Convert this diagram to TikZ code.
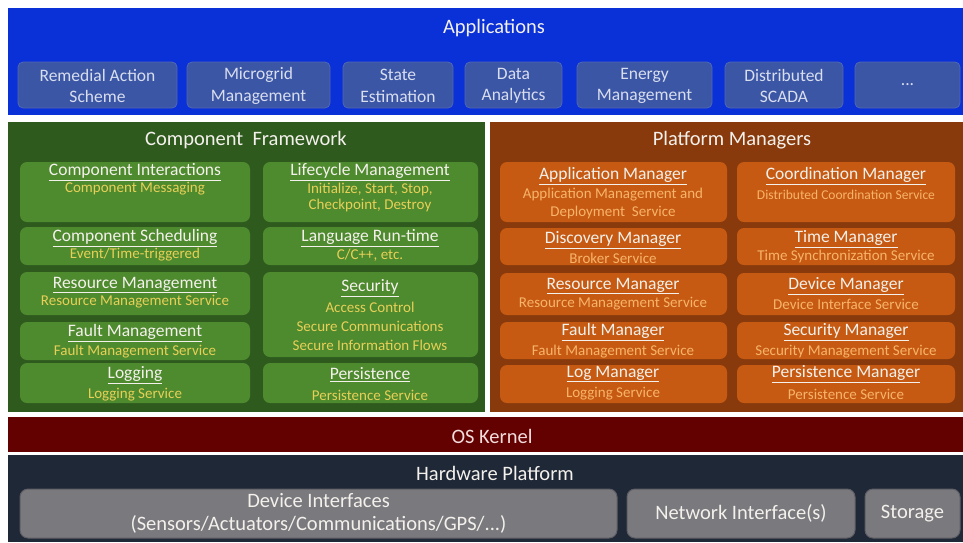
\documentclass[tikz,border=0pt]{standalone}
\usepackage{fontspec}
\setmainfont{Carlito}
\usetikzlibrary{fit}

\definecolor{appband}{HTML}{0A30D7}
\definecolor{appbox}{HTML}{3C56A6}
\definecolor{appboxline}{HTML}{5068B4}
\definecolor{apptext}{HTML}{D8DEEE}
\definecolor{greenpanel}{HTML}{2F5A1E}
\definecolor{greenbox}{HTML}{4E8A2E}
\definecolor{greensub}{HTML}{E8D058}
\definecolor{orangepanel}{HTML}{893A0C}
\definecolor{orangebox}{HTML}{C65A12}
\definecolor{orangesub}{HTML}{F8B46A}
\definecolor{kernel}{HTML}{630000}
\definecolor{kerneltext}{HTML}{F3DCDC}
\definecolor{hwpanel}{HTML}{1F2837}
\definecolor{hwbox}{HTML}{7A797E}
\definecolor{hwboxline}{HTML}{5E5E64}
\definecolor{lighttext}{HTML}{F4F1EC}

\tikzset{
  area/.style={inner sep=0pt, outer sep=0pt, draw=none},
  appbtn/.style={area, fill=appbox, draw=appboxline, line width=0.8pt, rounded corners=5pt},
  gbox/.style={area, fill=greenbox, rounded corners=7pt},
  obox/.style={area, fill=orangebox, rounded corners=7pt},
  hwbtn/.style={area, fill=hwbox, draw=hwboxline, line width=1pt, rounded corners=8pt},
  head/.style={inner sep=0pt, text=lighttext, font=\fontsize{20.5}{22}\selectfont},
  applbl/.style={inner sep=0pt, text=apptext, align=center, font=\fontsize{17.5}{21.5}\selectfont},
  ttl/.style={inner sep=0pt, text=lighttext, font=\fontsize{17.5}{18}\selectfont},
  gsub/.style={inner sep=0pt, text=greensub, font=\fontsize{15}{16}\selectfont},
  osub/.style={inner sep=0pt, text=orangesub, font=\fontsize{15}{16}\selectfont},
  hwlbl/.style={inner sep=0pt, text=lighttext, align=center, font=\fontsize{20.5}{23}\selectfont},
}

% a rectangular region given by its corners: name, x1, y1, x2, y2, style
\newcommand\region[6]{\node[fit={(#2,#3) (#4,#5)}, #6] (#1) {};}

\begin{document}
\begin{tikzpicture}[x=1pt, y=-1pt]
\useasboundingbox (0,0) rectangle (963,542);
\fill[white] (0,0) rectangle (963,542);

% ---------------- Applications ----------------
\region{apps}{8}{8}{963}{115}{area, fill=appband}
\node[head] (apps-t) at (494,28) {Applications};
\region{a1}{18}{62}{177}{108}{appbtn}
\region{a2}{187}{62}{330}{108}{appbtn}
\region{a3}{343}{62}{453}{108}{appbtn}
\region{a4}{465}{62}{562}{108}{appbtn}
\region{a5}{577}{62}{712}{108}{appbtn}
\region{a6}{725}{62}{843}{108}{appbtn}
\region{a7}{855}{62}{960}{108}{appbtn}
\node[applbl] at ([yshift=-1pt]a1) {Remedial Action\\Scheme};
\node[applbl] at ([yshift=-1pt]a2) {Microgrid\\Management};
\node[applbl] at ([yshift=-1pt]a3) {State\\Estimation};
\node[applbl] at ([yshift=-1pt]a4) {Data\\Analytics};
\node[applbl] at ([yshift=-1pt]a5) {Energy\\Management};
\node[applbl] at ([yshift=-1pt]a6) {Distributed\\SCADA};
\node[applbl] at (a7) {...};

% ---------------- Component Framework ----------------
\region{cf}{8}{122}{485}{412}{area, fill=greenpanel}
\node[head] (cf-t) at (246,140) {Component\ \ Framework};

\region{ci}{20}{162}{250}{222}{gbox}
\node[ttl]  (ci-t) at (135,172) {\underline{Component Interactions}};
\node[gsub] (ci-s) at (135,189) {Component Messaging};

\region{lm}{263}{162}{478}{222}{gbox}
\node[ttl]  (lm-t) at (370,172) {\underline{Lifecycle Management}};
\node[gsub] (lm-s1) at (370,189) {Initialize, Start, Stop,};
\node[gsub] (lm-s2) at (370,205) {Checkpoint, Destroy};

\region{cs}{20}{227}{250}{265}{gbox}
\node[ttl]  (cs-t) at (135,238) {\underline{Component Scheduling}};
\node[gsub] (cs-s) at (135,255) {Event/Time-triggered};

\region{lr}{263}{227}{478}{265}{gbox}
\node[ttl]  (lr-t) at (370,238) {\underline{Language Run-time}};
\node[gsub] (lr-s) at (370,255) {C/C++, etc.};

\region{rm}{20}{272}{250}{315}{gbox}
\node[ttl]  (rm-t) at (135,285) {\underline{Resource Management}};
\node[gsub] (rm-s) at (135,302) {Resource Management Service};

\region{sec}{263}{272}{478}{357}{gbox}
\node[ttl]  (sec-t) at (370,288) {\underline{Security}};
\node[gsub] (sec-s1) at (370,307) {Access Control};
\node[gsub] (sec-s2) at (370,326) {Secure Communications};
\node[gsub] (sec-s3) at (370,345) {Secure Information Flows};

\region{fm}{20}{322}{250}{360}{gbox}
\node[ttl]  (fm-t) at (135,333) {\underline{Fault Management}};
\node[gsub] (fm-s) at (135,352) {Fault Management Service};

\region{lg}{20}{363}{250}{403}{gbox}
\node[ttl]  (lg-t) at (135,375) {\underline{Logging}};
\node[gsub] (lg-s) at (135,395) {Logging Service};

\region{ps}{263}{363}{478}{403}{gbox}
\node[ttl]  (ps-t) at (370,375) {\underline{Persistence}};
\node[gsub] (ps-s) at (370,395) {Persistence Service};

% ---------------- Platform Managers ----------------
\region{pm}{490}{122}{963}{412}{area, fill=orangepanel}
\node[head] (pm-t) at (732,140) {Platform Managers};

\region{am}{500}{162}{727}{222}{obox}
\node[ttl]  (am-t) at (613,176) {\underline{Application Manager}};
\node[osub] (am-s1) at (613,195) {Application Management and};
\node[osub] (am-s2) at (613,212) {Deployment\ \ Service};

\region{com}{737}{162}{955}{222}{obox}
\node[ttl]  (com-t) at (846,176) {\underline{Coordination Manager}};
\node[osub, font=\fontsize{13.5}{15}\selectfont] (com-s) at (846,195) {Distributed Coordination Service};

\region{dm}{500}{228}{727}{265}{obox}
\node[ttl]  (dm-t) at (613,240) {\underline{Discovery Manager}};
\node[osub] (dm-s) at (613,258) {Broker Service};

\region{tm}{737}{228}{955}{265}{obox}
\node[ttl]  (tm-t) at (846,239) {\underline{Time Manager}};
\node[osub] (tm-s) at (846,256) {Time Synchronization Service};

\region{rsm}{500}{273}{727}{315}{obox}
\node[ttl]  (rsm-t) at (613,286) {\underline{Resource Manager}};
\node[osub] (rsm-s) at (613,304) {Resource Management Service};

\region{dvm}{737}{273}{955}{315}{obox}
\node[ttl]  (dvm-t) at (846,286) {\underline{Device Manager}};
\node[osub] (dvm-s) at (846,304) {Device Interface Service};

\region{ftm}{500}{322}{727}{359}{obox}
\node[ttl]  (ftm-t) at (613,332) {\underline{Fault Manager}};
\node[osub] (ftm-s) at (613,352) {Fault Management Service};

\region{scm}{737}{322}{955}{359}{obox}
\node[ttl]  (scm-t) at (846,332) {\underline{Security Manager}};
\node[osub] (scm-s) at (846,352) {Security Management Service};

\region{lgm}{500}{365}{727}{403}{obox}
\node[ttl]  (lgm-t) at (613,374) {\underline{Log Manager}};
\node[osub] (lgm-s) at (613,394) {Logging Service};

\region{psm}{737}{365}{955}{403}{obox}
\node[ttl]  (psm-t) at (846,374) {\underline{Persistence Manager}};
\node[osub] (psm-s) at (846,394) {Persistence Service};

% ---------------- OS Kernel ----------------
\region{os}{8}{417}{963}{452}{area, fill=kernel}
\node[head, text=kerneltext] (os-t) at (492,436) {OS Kernel};

% ---------------- Hardware Platform ----------------
\region{hw}{8}{455}{963}{542}{area, fill=hwpanel}
\node[head] (hw-t) at (495,473) {Hardware Platform};
\region{di}{20}{489}{617}{538}{hwbtn}
\region{ni}{627}{489}{855}{538}{hwbtn}
\region{st}{865}{489}{960}{538}{hwbtn}
\node[hwlbl] (di-t) at (di) {Device Interfaces\\(Sensors/Actuators/Communications/GPS/...)};
\node[hwlbl] (ni-t) at (ni) {Network Interface(s)};
\node[hwlbl] (st-t) at (st) {Storage};
\end{tikzpicture}
\end{document}
